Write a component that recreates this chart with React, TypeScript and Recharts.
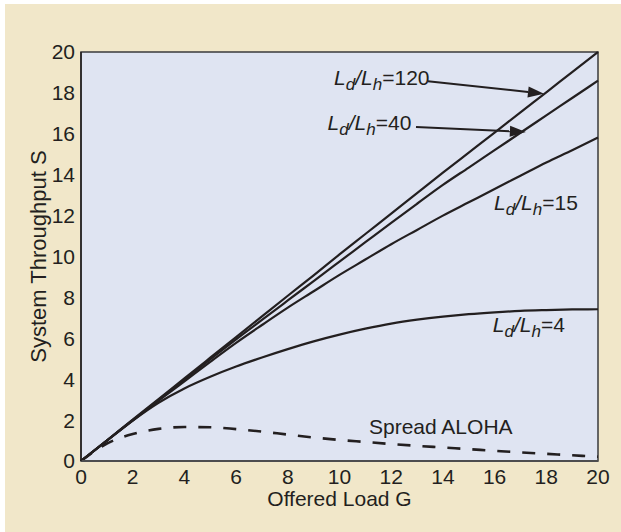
import React from "react";
import {
  LineChart,
  Line,
  XAxis,
  YAxis,
  CartesianGrid,
  ReferenceArea,
  ReferenceDot,
  ReferenceLine,
} from "recharts";

// ---- data ----
const offeredLoad = [0, 1, 2, 3, 4, 5, 6, 7, 8, 9, 10, 11, 12, 13, 14, 15, 16, 17, 18, 19, 20];
const ratio120 = [0, 1, 2.02, 3.03, 4.04, 5.05, 6.06, 7.07, 8.08, 9.08, 10.1, 11.1, 12.1, 13.1, 14.1, 15.08, 16.06, 17.05, 18.03, 19.02, 20];
const ratio40 = [0, 1, 2, 2.99, 3.98, 4.97, 5.95, 6.9, 7.85, 8.8, 9.75, 10.7, 11.65, 12.58, 13.5, 14.35, 15.2, 16.05, 16.9, 17.75, 18.6];
const ratio15 = [0, 1, 1.98, 2.95, 3.9, 4.85, 5.78, 6.65, 7.5, 8.3, 9.1, 9.85, 10.6, 11.3, 12.0, 12.65, 13.3, 13.95, 14.6, 15.2, 15.82];
const ratio4 = [0, 1.0, 1.98, 2.85, 3.55, 4.12, 4.62, 5.06, 5.47, 5.85, 6.18, 6.47, 6.72, 6.91, 7.06, 7.18, 7.27, 7.34, 7.38, 7.41, 7.42];
const spreadAloha = [0, 0.85, 1.32, 1.57, 1.66, 1.65, 1.56, 1.44, 1.29, 1.15, 1.03, 0.93, 0.83, 0.74, 0.66, 0.58, 0.5, 0.42, 0.35, 0.28, 0.21];
const axisTicks = [0, 2, 4, 6, 8, 10, 12, 14, 16, 18, 20];

// annotation anchors (data coordinates)
const ratioLabels = [
  { ratio: "120", g: 9.79, s: 18.37 },
  { ratio: "40", g: 9.54, s: 16.19 },
  { ratio: "15", g: 15.98, s: 12.27 },
  { ratio: "4", g: 15.93, s: 6.31 },
];
const arrows = [
  { from: { g: 13.42, s: 18.57 }, to: { g: 17.91, s: 17.96 } },
  { from: { g: 12.96, s: 16.33 }, to: { g: 17.21, s: 16.09 } },
];
const alohaLabel = { text: "Spread ALOHA", g: 11.14, s: 1.33 };

const table = offeredLoad.map((g, i) => ({
  g,
  r120: ratio120[i],
  r40: ratio40[i],
  r15: ratio15[i],
  r4: ratio4[i],
  aloha: spreadAloha[i],
}));

const INK = "#231f20";
const FONT = "'Liberation Sans', Arial, Helvetica, sans-serif";
const FS = 21;

const RatioText = (props: any) => {
  const { cx, cy, ratio } = props;
  return (
    <text x={cx} y={cy} fontSize={FS} fill={INK} fontFamily={FONT}>
      <tspan fontStyle="italic">L</tspan>
      <tspan fontStyle="italic" fontSize={17} dy={5}>d</tspan>
      <tspan fontStyle="italic" dy={-5}>/L</tspan>
      <tspan fontStyle="italic" fontSize={17} dy={5}>h</tspan>
      <tspan dy={-5}>={ratio}</tspan>
    </text>
  );
};

const PlainText = (props: any) => {
  const { cx, cy, text } = props;
  return (
    <text x={cx} y={cy} fontSize={FS} fill={INK} fontFamily={FONT}>
      {text}
    </text>
  );
};

const ArrowShape = (props: any) => {
  const { x1, y1, x2, y2 } = props;
  const dx = x2 - x1;
  const dy = y2 - y1;
  const len = Math.sqrt(dx * dx + dy * dy) || 1;
  const ux = dx / len;
  const uy = dy / len;
  const headLen = 16;
  const halfW = 5.5;
  const bx = x2 - ux * headLen;
  const by = y2 - uy * headLen;
  const nx = -uy;
  const ny = ux;
  return (
    <g>
      <line x1={x1} y1={y1} x2={bx} y2={by} stroke={INK} strokeWidth={2} />
      <polygon
        points={`${x2},${y2} ${bx + nx * halfW},${by + ny * halfW} ${bx - nx * halfW},${by - ny * halfW}`}
        fill={INK}
      />
    </g>
  );
};

const YLabel = (props: any) => {
  const vb = props.viewBox || { x: 0, y: 52, width: 81, height: 409 };
  const cx = vb.x + 46;
  const cy = vb.y + vb.height / 2;
  return (
    <text
      x={cx}
      y={cy}
      transform={`rotate(-90, ${cx}, ${cy})`}
      textAnchor="middle"
      fontSize={22}
      fill={INK}
      fontFamily={FONT}
    >
      System Throughput S
    </text>
  );
};

export default function App() {
  return (
    <div style={{ position: "absolute", left: 0, top: 0, width: 621, height: 532, background: "#ffffff" }}>
      <div
        style={{ position: "absolute", left: 5, top: 4, width: 616, height: 528, background: "#f1e7c9" }}
      />
      <div style={{ position: "absolute", left: 0, top: 0 }}>
        <LineChart
          width={621}
          height={532}
          data={table}
          margin={{ top: 52, right: 23, left: 0, bottom: 0 }}
        >
          <CartesianGrid horizontal={false} vertical={false} fill="#dfe4f2" />
          <XAxis
            dataKey="g"
            type="number"
            domain={[0, 20]}
            ticks={axisTicks}
            height={71}
            tickLine={false}
            axisLine={{ stroke: "#4d4d4f", strokeWidth: 2 }}
            tick={{ fontSize: FS, fill: INK, fontFamily: FONT }}
            interval={0}
            label={{
              value: "Offered Load G",
              position: "insideBottom",
              offset: 26,
              fontSize: FS,
              fill: INK,
              fontFamily: FONT,
            }}
          />
          <YAxis
            type="number"
            domain={[0, 20]}
            ticks={axisTicks}
            width={81}
            tickLine={false}
            tickMargin={0}
            axisLine={{ stroke: INK, strokeWidth: 1.5 }}
            tick={{ fontSize: FS, fill: INK, fontFamily: FONT }}
            interval={0}
            label={{ content: <YLabel /> }}
          />
          <ReferenceArea
            x1={0}
            x2={20}
            y1={0}
            y2={20}
            fill="none"
            stroke="#3a3a3c"
            strokeWidth={1.5}
          />
          <Line type="monotone" dataKey="aloha" stroke={INK} strokeWidth={2.6} strokeDasharray="13 12" dot={false} isAnimationActive={false} />
          <Line type="monotone" dataKey="r4" stroke={INK} strokeWidth={2.2} dot={false} isAnimationActive={false} />
          <Line type="monotone" dataKey="r15" stroke={INK} strokeWidth={2.2} dot={false} isAnimationActive={false} />
          <Line type="monotone" dataKey="r40" stroke={INK} strokeWidth={2.2} dot={false} isAnimationActive={false} />
          <Line type="monotone" dataKey="r120" stroke={INK} strokeWidth={2.2} dot={false} isAnimationActive={false} />
          {arrows.map((a, i) => (
            <ReferenceLine
              key={`arrow-${i}`}
              segment={[
                { x: a.from.g, y: a.from.s },
                { x: a.to.g, y: a.to.s },
              ]}
              stroke={INK}
              shape={(p: any) => <ArrowShape {...p} />}
            />
          ))}
          {ratioLabels.map((l) => (
            <ReferenceDot
              key={`lbl-${l.ratio}`}
              x={l.g}
              y={l.s}
              r={1}
              shape={(p: any) => <RatioText cx={p.cx} cy={p.cy} ratio={l.ratio} />}
            />
          ))}
          <ReferenceDot
            x={alohaLabel.g}
            y={alohaLabel.s}
            r={1}
            shape={(p: any) => <PlainText cx={p.cx} cy={p.cy} text={alohaLabel.text} />}
          />
        </LineChart>
      </div>
    </div>
  );
}
